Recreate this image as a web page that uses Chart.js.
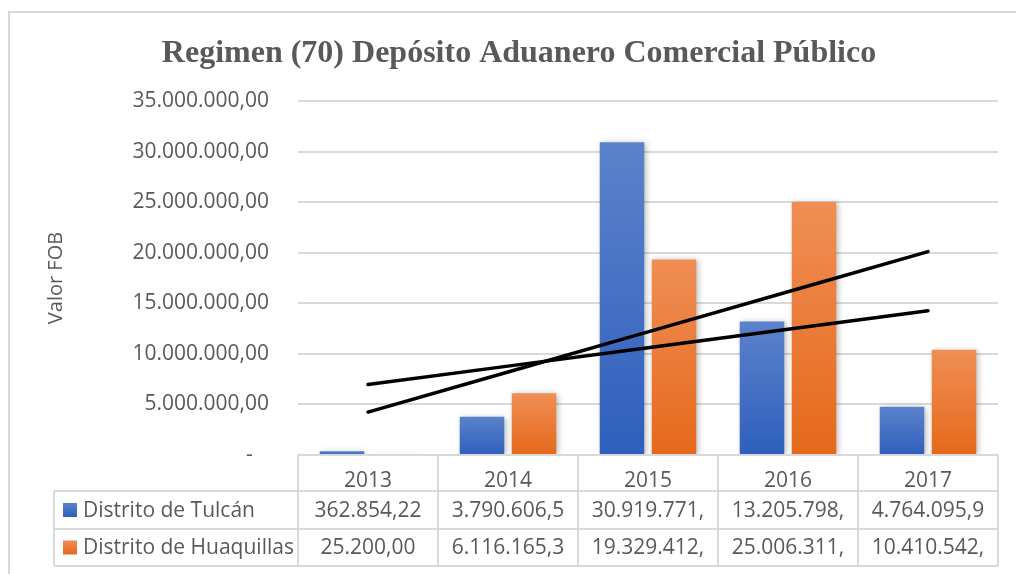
<!DOCTYPE html>
<html><head><meta charset="utf-8">
<script src="https://cdn.jsdelivr.net/npm/chart.js@4/dist/chart.umd.min.js"></script>
<style>html,body{margin:0;padding:0;background:#fff;}canvas{display:block;}</style>
</head><body>
<canvas id="c" width="1016" height="574"></canvas>
<script>
const categories = ['2013', '2014', '2015', '2016', '2017'];
const seriesNames = ['Distrito de Tulcán', 'Distrito de Huaquillas'];
const tulcan = [362854.22, 3790606.5, 30919771.0, 13205798.0, 4764095.9];
const huaquillas = [25200.00, 6116165.3, 19329412.0, 25006311.0, 10410542.0];
const tulcanTable = ['362.854,22', '3.790.606,5', '30.919.771,', '13.205.798,', '4.764.095,9'];
const huaquillasTable = ['25.200,00', '6.116.165,3', '19.329.412,', '25.006.311,', '10.410.542,'];
const yTickValues = [0, 5000000, 10000000, 15000000, 20000000, 25000000, 30000000, 35000000];

const TEXT = '#595959';
const GRID = '#d9d9d9';
const FONT = '"Open Sans", sans-serif';
const BLUE = ['#5b82cb', '#2f5fbc'];
const ORANGE = ['#f08e55', '#e5691b'];

function linearTrend(vals) {
  const n = vals.length;
  const xs = vals.map((_, i) => i + 1);
  const mx = xs.reduce((a, b) => a + b, 0) / n;
  const my = vals.reduce((a, b) => a + b, 0) / n;
  let sxy = 0, sxx = 0;
  for (let i = 0; i < n; i++) { sxy += (xs[i] - mx) * (vals[i] - my); sxx += (xs[i] - mx) ** 2; }
  const b = sxy / sxx, a = my - b * mx;
  return xs.map(x => a + b * x);
}

function barGradient(cols) {
  return (ctx) => {
    const chart = ctx.chart;
    if (!chart.chartArea || ctx.type !== 'data') return cols[1];
    const y = chart.scales.y;
    const yt = y.getPixelForValue(ctx.raw), yb = y.getPixelForValue(0);
    if (Math.abs(yb - yt) < 1) return cols[0];
    const g = chart.ctx.createLinearGradient(0, yt, 0, yb);
    g.addColorStop(0, cols[0]);
    g.addColorStop(1, cols[1]);
    return g;
  };
}

function fmtTick(v) {
  if (v === 0) return '-   ';
  return v.toLocaleString('de-DE', { minimumFractionDigits: 2, maximumFractionDigits: 2 });
}

const framePlugin = {
  id: 'frame',
  beforeDraw(chart) {
    const c = chart.ctx;
    c.save();
    c.fillStyle = '#fff';
    c.fillRect(0, 0, chart.width, chart.height);
    c.strokeStyle = GRID;
    c.lineWidth = 2;
    c.beginPath();
    c.moveTo(9, chart.height);
    c.lineTo(9, 12);
    c.lineTo(chart.width, 12);
    c.stroke();
    c.restore();
  }
};

const shadowPlugin = {
  id: 'barShadow',
  beforeDatasetDraw(chart, args) {
    if (chart.data.datasets[args.index].type === 'line') return;
    const c = chart.ctx;
    c.save();
    c.shadowColor = 'rgba(0,0,0,0.28)';
    c.shadowBlur = 6;
    c.shadowOffsetX = 2;
    c.shadowOffsetY = 1;
  },
  afterDatasetDraw(chart, args) {
    if (chart.data.datasets[args.index].type === 'line') return;
    chart.ctx.restore();
  }
};

const tablePlugin = {
  id: 'dataTable',
  afterDraw(chart) {
    const c = chart.ctx;
    const ca = chart.chartArea;
    const n = categories.length;
    const colW = (ca.right - ca.left) / n;
    const tableLeft = 54;
    const r0 = ca.bottom, r1 = 491, r2 = 529, r3 = 566;
    c.save();
    c.strokeStyle = GRID;
    c.lineWidth = 2;
    c.beginPath();
    c.moveTo(ca.left, r0); c.lineTo(ca.right, r0);
    [r1, r2, r3].forEach(y => { c.moveTo(tableLeft, y); c.lineTo(ca.right, y); });
    for (let i = 0; i <= n; i++) {
      const x = Math.round(ca.left + i * colW);
      c.moveTo(x, r0); c.lineTo(x, r3);
    }
    c.moveTo(tableLeft, r1); c.lineTo(tableLeft, r3);
    c.stroke();

    const rows = [
      { name: seriesNames[0], vals: tulcanTable, cols: BLUE, y: (r1 + r2) / 2 },
      { name: seriesNames[1], vals: huaquillasTable, cols: ORANGE, y: (r2 + r3) / 2 }
    ];
    c.font = '21px ' + FONT;
    c.fillStyle = TEXT;
    c.textBaseline = 'middle';
    rows.forEach(r => {
      const g = c.createLinearGradient(0, r.y - 7, 0, r.y + 7);
      g.addColorStop(0, r.cols[0]); g.addColorStop(1, r.cols[1]);
      c.fillStyle = g;
      c.fillRect(63, r.y - 7, 14, 14);
      c.fillStyle = TEXT;
      c.textAlign = 'left';
      c.fillText(r.name, 83, r.y + 1);
      c.textAlign = 'center';
      r.vals.forEach((t, i) => {
        const x = chart.scales.x.getPixelForValue(i);
        c.fillText(t, x, r.y + 1);
      });
    });
    c.restore();
  }
};

const chart = new Chart(document.getElementById('c'), {
  type: 'bar',
  data: {
    labels: categories,
    datasets: [
      { type: 'line', label: 'Tendencia Tulcán', data: linearTrend(tulcan), borderColor: '#000', borderWidth: 3.5,
        pointRadius: 0, borderCapStyle: 'round', fill: false, order: 0 },
      { type: 'line', label: 'Tendencia Huaquillas', data: linearTrend(huaquillas), borderColor: '#000', borderWidth: 3.5,
        pointRadius: 0, borderCapStyle: 'round', fill: false, order: 0 },
      { label: seriesNames[0], data: tulcan, backgroundColor: barGradient(BLUE), borderWidth: 0,
        categoryPercentage: 0.743, barPercentage: 0.856, order: 1 },
      { label: seriesNames[1], data: huaquillas, backgroundColor: barGradient(ORANGE), borderWidth: 0,
        categoryPercentage: 0.743, barPercentage: 0.856, order: 1 }
    ]
  },
  options: {
    responsive: false,
    animation: false,
    layout: { padding: { left: 40, right: 18, top: 0, bottom: 0 } },
    plugins: {
      legend: { display: false },
      tooltip: { enabled: false },
      title: {
        display: true,
        text: 'Regimen (70) Depósito Aduanero Comercial Público',
        color: TEXT,
        font: { family: '"Liberation Serif", "Times New Roman", serif', size: 32, weight: 'bold' },
        padding: { top: 35, bottom: 27.6 }
      }
    },
    scales: {
      x: {
        grid: { display: false },
        border: { display: false },
        ticks: { color: TEXT, font: { family: FONT, size: 21 }, padding: 5 },
        afterFit(scale) { scale.height = 119; }
      },
      y: {
        min: 0, max: 35000000,
        afterBuildTicks(scale) { scale.ticks = yTickValues.map(v => ({ value: v })); },
        grid: { color: GRID, lineWidth: 2, drawTicks: false },
        border: { display: false },
        ticks: { color: TEXT, font: { family: FONT, size: 21 }, padding: 29, callback: fmtTick },
        title: { display: true, text: 'Valor FOB', color: TEXT, font: { family: FONT, size: 20 }, padding: { top: 4, bottom: 0 } },
        afterFit(scale) { scale.width = 258; }
      }
    }
  },
  plugins: [framePlugin, shadowPlugin, tablePlugin]
});
</script>
</body></html>
